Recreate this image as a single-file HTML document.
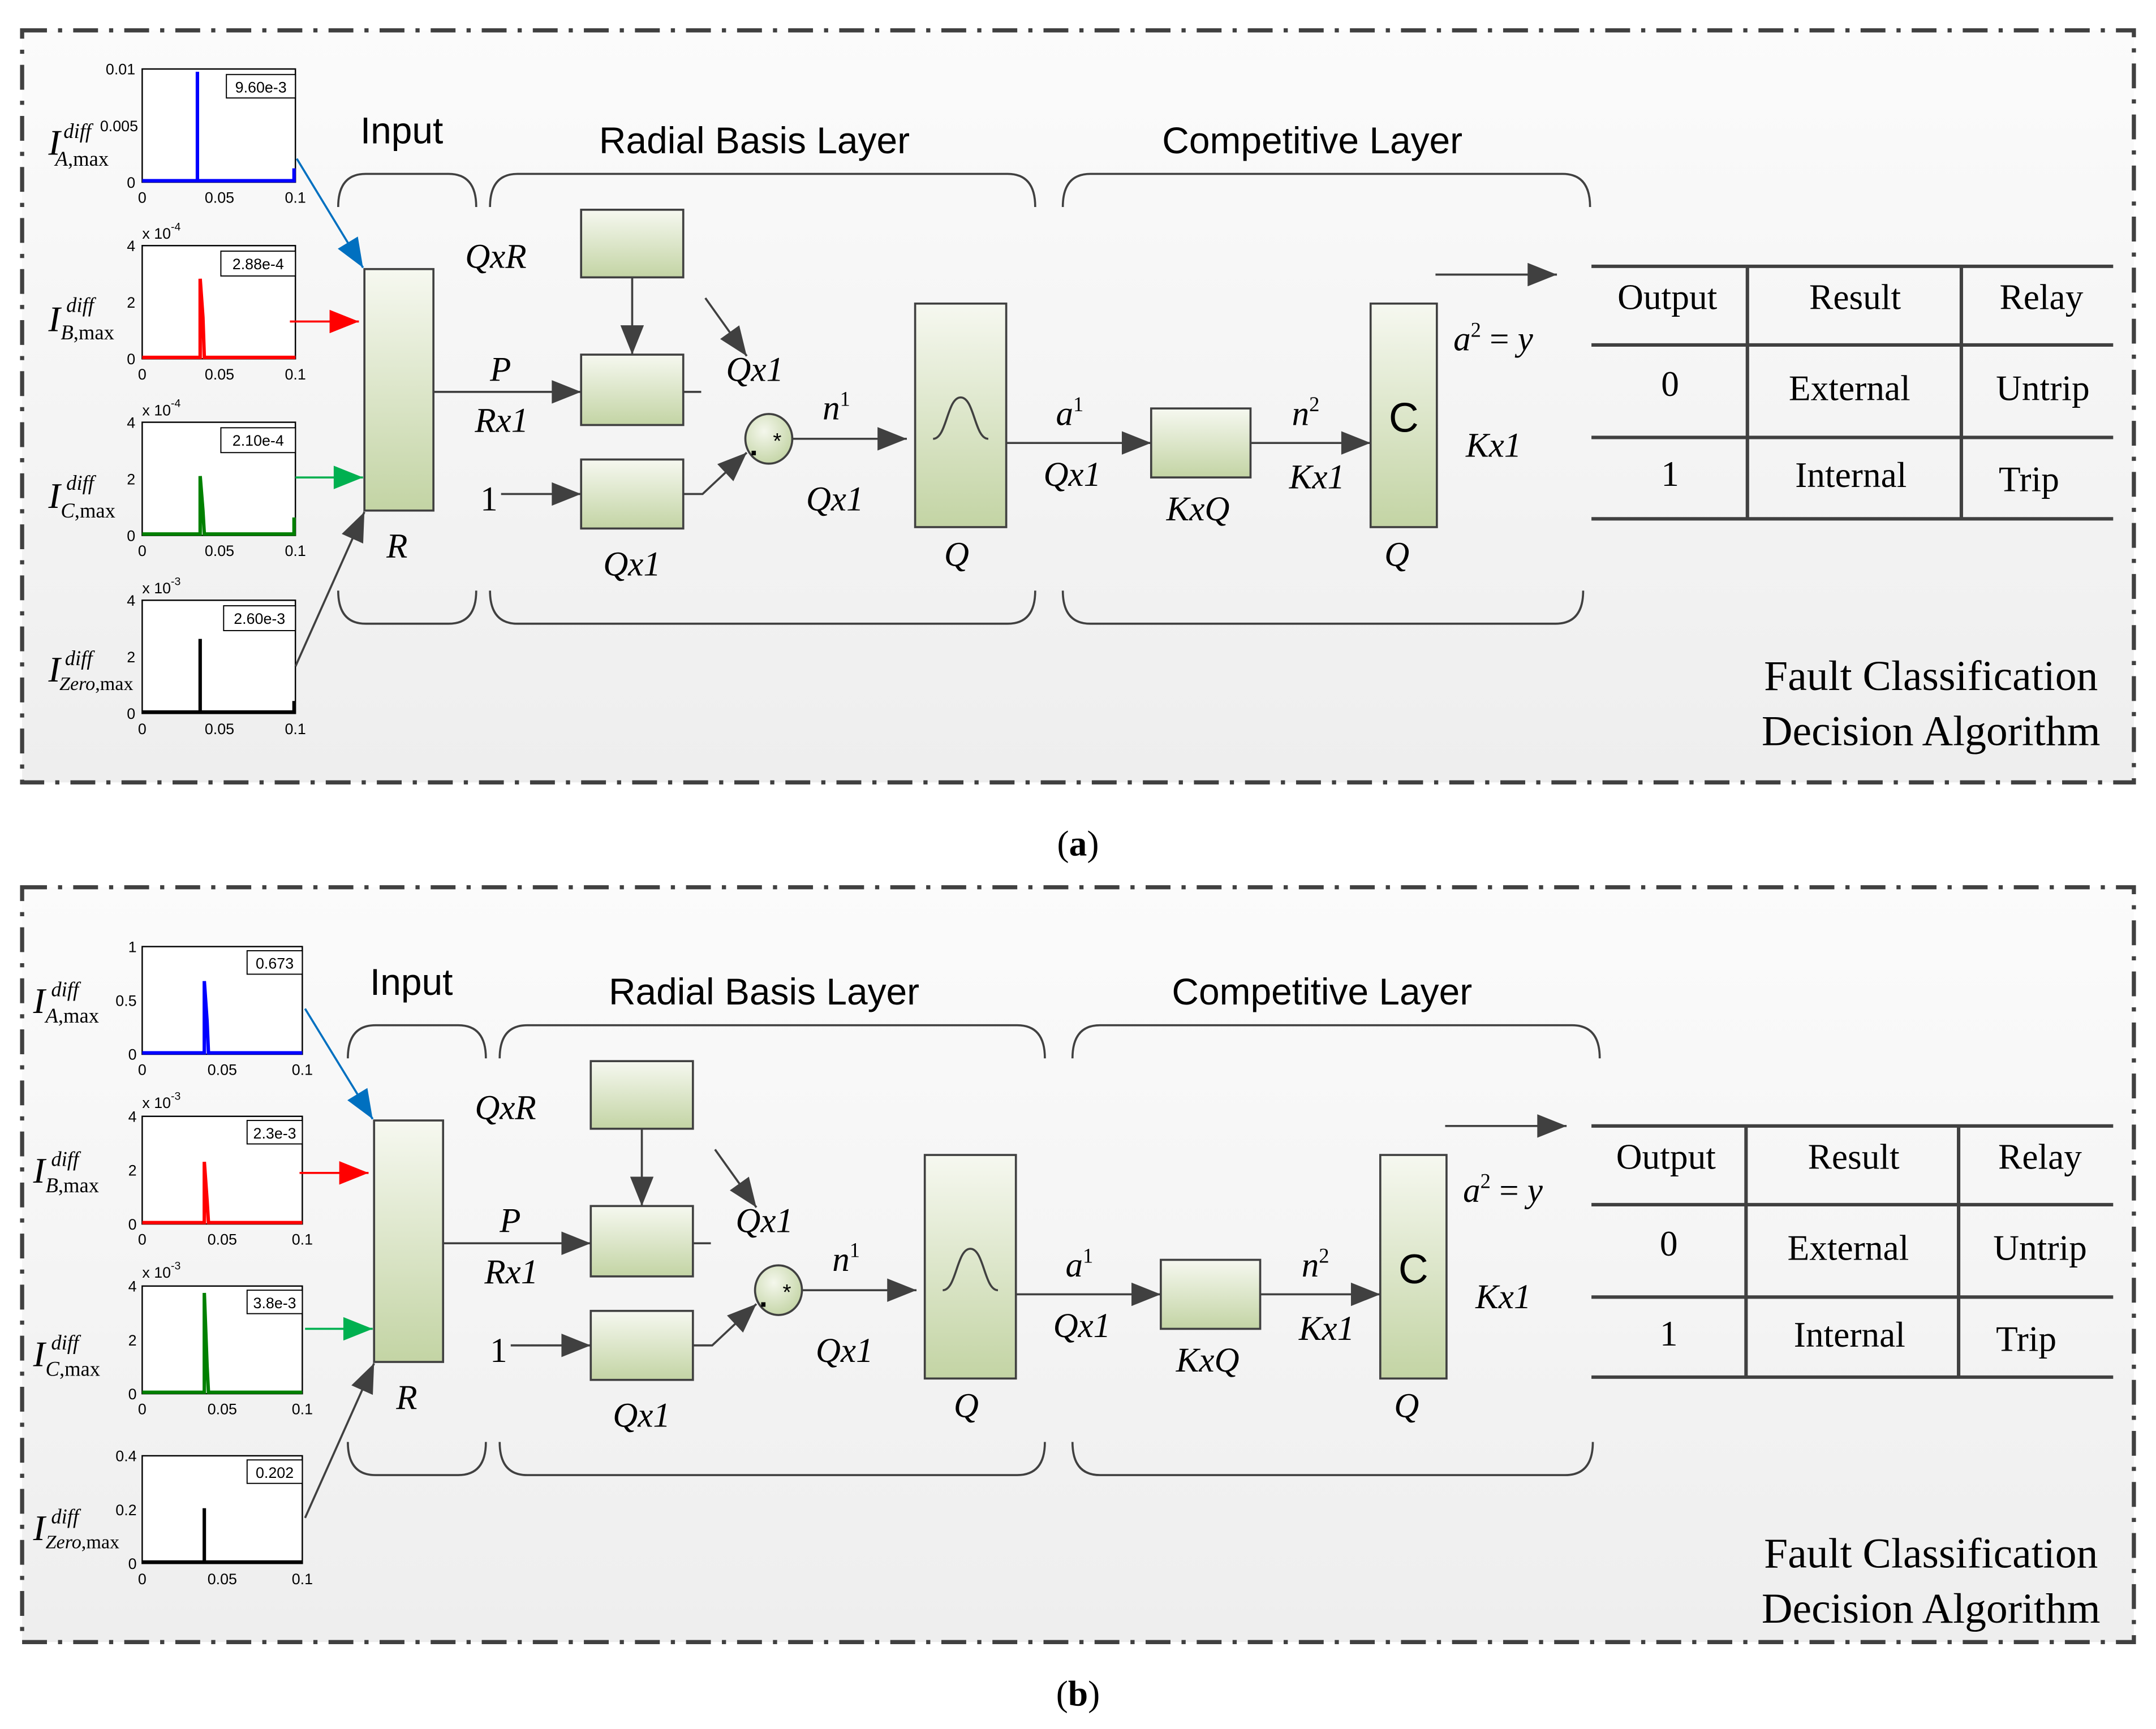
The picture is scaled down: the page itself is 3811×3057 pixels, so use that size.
<!DOCTYPE html>
<html><head><meta charset="utf-8"><style>
html,body{margin:0;padding:0;background:#fff}
svg{display:block}
.sans{font-family:"Liberation Sans",sans-serif}
.ser{font-family:"Liberation Serif",serif}
.it{font-family:"Liberation Serif",serif;font-style:italic}
.tk{font-family:"Liberation Sans",sans-serif;font-size:11px}
</style></head><body>
<svg width="3811" height="3057" viewBox="0 0 1562 1253" xmlns="http://www.w3.org/2000/svg">
<defs>
<linearGradient id="bg" x1="0" y1="0" x2="0" y2="1"><stop offset="0" stop-color="#fbfbfb"/><stop offset="1" stop-color="#eeeeee"/></linearGradient>
<linearGradient id="gr" x1="0" y1="0" x2="0" y2="1"><stop offset="0" stop-color="#f6f8f0"/><stop offset="1" stop-color="#c3d4a4"/></linearGradient>
<radialGradient id="cg" cx="0.4" cy="0.35" r="0.7"><stop offset="0" stop-color="#f4f7ec"/><stop offset="1" stop-color="#c3d4a4"/></radialGradient>
<marker id="ah" markerWidth="10" markerHeight="8" refX="10" refY="4" orient="auto" markerUnits="userSpaceOnUse"><path d="M0,0 L10,4 L0,8z" fill="#404040"/></marker>
<marker id="ak" viewBox="0 0 10 8" markerWidth="22" markerHeight="17" refX="10" refY="4" orient="auto" markerUnits="userSpaceOnUse"><path d="M0,0 L10,4 L0,8z" fill="#404040"/></marker>
<marker id="ab" viewBox="0 0 10 8" markerWidth="22" markerHeight="17" refX="10" refY="4" orient="auto" markerUnits="userSpaceOnUse"><path d="M0,0 L10,4 L0,8z" fill="#0070c0"/></marker>
<marker id="ar" viewBox="0 0 10 8" markerWidth="22" markerHeight="17" refX="10" refY="4" orient="auto" markerUnits="userSpaceOnUse"><path d="M0,0 L10,4 L0,8z" fill="#ff0000"/></marker>
<marker id="ag" viewBox="0 0 10 8" markerWidth="22" markerHeight="17" refX="10" refY="4" orient="auto" markerUnits="userSpaceOnUse"><path d="M0,0 L10,4 L0,8z" fill="#00b050"/></marker>
</defs>
<rect width="1562" height="1253" fill="#fff"/>
<!-- panel frames -->
<rect x="16" y="22" width="1530" height="545" fill="url(#bg)" stroke="#404040" stroke-width="3" stroke-dasharray="18,8,3,8"/>
<rect x="16" y="643" width="1530" height="547" fill="url(#bg)" stroke="#404040" stroke-width="3" stroke-dasharray="18,8,3,8"/>
<text x="781" y="620" class="ser" font-size="26" text-anchor="middle">(<tspan font-weight="bold">a</tspan>)</text>
<text x="781" y="1236" class="ser" font-size="26" text-anchor="middle">(<tspan font-weight="bold">b</tspan>)</text>

<!-- ============ PANEL A plots ============ -->
<g>
<rect x="103" y="50" width="111" height="82" fill="#fff" stroke="#000"/>
<rect x="164" y="54" width="50" height="17" fill="#fff" stroke="#000" stroke-width="0.8"/><text x="189" y="67" class="tk" text-anchor="middle">9.60e-3</text>
<text x="98" y="54" class="tk" text-anchor="end">0.01</text><text x="100" y="95" class="tk" text-anchor="end">0.005</text><text x="98" y="136" class="tk" text-anchor="end">0</text>
<text x="103" y="147" class="tk" text-anchor="middle">0</text><text x="159" y="147" class="tk" text-anchor="middle">0.05</text><text x="214" y="147" class="tk" text-anchor="middle">0.1</text>
<path d="M103,131 H143 V52 V131 H213 V122" fill="none" stroke="#0000ff" stroke-width="2.5"/>
<text x="35" y="112" class="it" font-size="26">I</text><text x="46" y="100" class="it" font-size="15">diff</text><text x="40" y="120" class="ser" font-size="15"><tspan font-style="italic">A</tspan>,max</text>

<rect x="103" y="178" width="111" height="82" fill="#fff" stroke="#000"/>
<rect x="160" y="182" width="54" height="18" fill="#fff" stroke="#000" stroke-width="0.8"/><text x="187" y="195" class="tk" text-anchor="middle">2.88e-4</text>
<text x="103" y="173" class="tk">x 10<tspan dy="-6" font-size="8">-4</tspan></text>
<text x="98" y="182" class="tk" text-anchor="end">4</text><text x="98" y="223" class="tk" text-anchor="end">2</text><text x="98" y="264" class="tk" text-anchor="end">0</text>
<text x="103" y="275" class="tk" text-anchor="middle">0</text><text x="159" y="275" class="tk" text-anchor="middle">0.05</text><text x="214" y="275" class="tk" text-anchor="middle">0.1</text>
<path d="M103,259 H145 V202 L147,230 L148,259 H214" fill="none" stroke="#ff0000" stroke-width="2.5"/>
<text x="35" y="240" class="it" font-size="26">I</text><text x="48" y="226" class="it" font-size="15">diff</text><text x="44" y="246" class="ser" font-size="15"><tspan font-style="italic">B</tspan>,max</text>

<rect x="103" y="306" width="111" height="82" fill="#fff" stroke="#000"/>
<rect x="160" y="310" width="54" height="18" fill="#fff" stroke="#000" stroke-width="0.8"/><text x="187" y="323" class="tk" text-anchor="middle">2.10e-4</text>
<text x="103" y="301" class="tk">x 10<tspan dy="-6" font-size="8">-4</tspan></text>
<text x="98" y="310" class="tk" text-anchor="end">4</text><text x="98" y="351" class="tk" text-anchor="end">2</text><text x="98" y="392" class="tk" text-anchor="end">0</text>
<text x="103" y="403" class="tk" text-anchor="middle">0</text><text x="159" y="403" class="tk" text-anchor="middle">0.05</text><text x="214" y="403" class="tk" text-anchor="middle">0.1</text>
<path d="M103,387 H145 V345 L147,370 L148,387 H213 V375" fill="none" stroke="#008000" stroke-width="2.5"/>
<text x="35" y="368" class="it" font-size="26">I</text><text x="48" y="355" class="it" font-size="15">diff</text><text x="44" y="375" class="ser" font-size="15"><tspan font-style="italic">C</tspan>,max</text>

<rect x="103" y="435" width="111" height="82" fill="#fff" stroke="#000"/>
<rect x="162" y="439" width="52" height="18" fill="#fff" stroke="#000" stroke-width="0.8"/><text x="188" y="452" class="tk" text-anchor="middle">2.60e-3</text>
<text x="103" y="430" class="tk">x 10<tspan dy="-6" font-size="8">-3</tspan></text>
<text x="98" y="439" class="tk" text-anchor="end">4</text><text x="98" y="480" class="tk" text-anchor="end">2</text><text x="98" y="521" class="tk" text-anchor="end">0</text>
<text x="103" y="532" class="tk" text-anchor="middle">0</text><text x="159" y="532" class="tk" text-anchor="middle">0.05</text><text x="214" y="532" class="tk" text-anchor="middle">0.1</text>
<path d="M103,516 H145 V463 V516 H213 V508" fill="none" stroke="#000" stroke-width="2.5"/>
<text x="35" y="494" class="it" font-size="26">I</text><text x="47" y="482" class="it" font-size="15">diff</text><text x="43" y="500" class="ser" font-size="14"><tspan font-style="italic">Zero</tspan>,max</text>

<line x1="215" y1="115" x2="263" y2="194" stroke="#0070c0" stroke-width="1.5" marker-end="url(#ab)"/>
<line x1="210" y1="233" x2="260" y2="233" stroke="#ff0000" stroke-width="1.5" marker-end="url(#ar)"/>
<line x1="214" y1="346" x2="263" y2="346" stroke="#00b050" stroke-width="1.5" marker-end="url(#ag)"/>
<line x1="214" y1="483" x2="264" y2="371" stroke="#404040" stroke-width="1.5" marker-end="url(#ak)"/>
</g>

<!-- ============ PANEL A network ============ -->
<g>
<text x="261" y="104" class="sans" font-size="27">Input</text>
<text x="434" y="111" class="sans" font-size="27">Radial Basis Layer</text>
<text x="842" y="111" class="sans" font-size="27">Competitive Layer</text>
<g fill="none" stroke="#404040" stroke-width="1.5">
<path d="M245,150 Q245,126 265,126 L325,126 Q345,126 345,150"/>
<path d="M245,428 Q245,452 265,452 L325,452 Q345,452 345,428"/>
<path d="M355,150 Q355,126 375,126 L730,126 Q750,126 750,150"/>
<path d="M355,428 Q355,452 375,452 L730,452 Q750,452 750,428"/>
<path d="M770,150 Q770,126 790,126 L1132,126 Q1152,126 1152,150"/>
<path d="M770,428 Q770,452 790,452 L1127,452 Q1147,452 1147,428"/>
</g>
<g stroke="#404040" stroke-width="1.5" fill="url(#gr)">
<rect x="264" y="195" width="50" height="175"/>
<rect x="421" y="152" width="74" height="49"/>
<rect x="421" y="257" width="74" height="51"/>
<rect x="421" y="333" width="74" height="50"/>
<rect x="663" y="220" width="66" height="162"/>
<rect x="834" y="296" width="72" height="50"/>
<rect x="993" y="220" width="48" height="162"/>
<ellipse cx="557" cy="318" rx="17" ry="18" fill="url(#cg)"/>
</g>
<g stroke="#404040" stroke-width="1.5" fill="none">
<line x1="314" y1="284" x2="421" y2="284" marker-end="url(#ak)"/>
<line x1="458" y1="201" x2="458" y2="257" marker-end="url(#ak)"/>
<line x1="511" y1="216" x2="541" y2="258" marker-end="url(#ak)"/>
<line x1="495" y1="284" x2="508" y2="284"/>
<line x1="363" y1="358" x2="421" y2="358" marker-end="url(#ak)"/>
<polyline points="495,358 509,358 541,328" marker-end="url(#ak)"/>
<line x1="574" y1="318" x2="657" y2="318" marker-end="url(#ak)"/>
<line x1="729" y1="321" x2="834" y2="321" marker-end="url(#ak)"/>
<line x1="906" y1="321" x2="993" y2="321" marker-end="url(#ak)"/>
<line x1="1040" y1="199" x2="1128" y2="199" marker-end="url(#ak)"/>
<path d="M676,318 C686,318 686,288 696,288 C706,288 706,318 716,318"/>
</g>
<text x="543" y="330" class="sans" font-size="22" font-weight="bold">.</text><text x="560" y="325" class="sans" font-size="16">*</text>
<text x="1017" y="313" class="sans" font-size="30" text-anchor="middle">C</text>
<g class="it" font-size="25">
<text x="337" y="194">QxR</text>
<text x="355" y="276">P</text>
<text x="344" y="313">Rx1</text>
<text x="526" y="276">Qx1</text>
<text x="437" y="417">Qx1</text>
<text x="596" y="304">n<tspan font-size="15" dy="-10" font-style="normal">1</tspan></text>
<text x="584" y="370">Qx1</text>
<text x="684" y="410">Q</text>
<text x="280" y="404">R</text>
<text x="765" y="308">a<tspan font-size="15" dy="-10" font-style="normal">1</tspan></text>
<text x="756" y="352">Qx1</text>
<text x="845" y="377">KxQ</text>
<text x="936" y="308">n<tspan font-size="15" dy="-10" font-style="normal">2</tspan></text>
<text x="934" y="354">Kx1</text>
<text x="1003" y="410">Q</text>
<text x="1053" y="254">a<tspan font-size="15" dy="-10" font-style="normal">2</tspan><tspan dy="10" font-style="normal"> = </tspan>y</text>
<text x="1062" y="331">Kx1</text>
</g>
<text x="348" y="370" class="ser" font-size="25">1</text>
</g>

<!-- table A -->
<g stroke="#404040" stroke-width="2.5">
<line x1="1153" y1="193" x2="1531" y2="193"/><line x1="1153" y1="250" x2="1531" y2="250"/>
<line x1="1153" y1="317" x2="1531" y2="317"/><line x1="1153" y1="376" x2="1531" y2="376"/>
<line x1="1266" y1="193" x2="1266" y2="376"/><line x1="1421" y1="193" x2="1421" y2="376"/>
</g>
<g class="ser" font-size="26" text-anchor="middle">
<text x="1208" y="224">Output</text><text x="1344" y="224">Result</text><text x="1479" y="224">Relay</text>
<text x="1210" y="287">0</text><text x="1340" y="290">External</text><text x="1480" y="290">Untrip</text>
<text x="1210" y="352">1</text><text x="1341" y="353">Internal</text><text x="1470" y="356">Trip</text>
<text x="1399" y="500" font-size="31">Fault Classification</text>
<text x="1399" y="540" font-size="31">Decision Algorithm</text>
</g>

<!-- ============ PANEL B plots ============ -->
<g>
<rect x="103" y="686" width="116" height="78" fill="#fff" stroke="#000"/>
<rect x="179" y="689" width="40" height="17" fill="#fff" stroke="#000" stroke-width="0.8"/><text x="199" y="702" class="tk" text-anchor="middle">0.673</text>
<text x="99" y="690" class="tk" text-anchor="end">1</text><text x="99" y="729" class="tk" text-anchor="end">0.5</text><text x="99" y="768" class="tk" text-anchor="end">0</text>
<text x="103" y="779" class="tk" text-anchor="middle">0</text><text x="161" y="779" class="tk" text-anchor="middle">0.05</text><text x="219" y="779" class="tk" text-anchor="middle">0.1</text>
<path d="M103,763 H148 V711 L150,740 L151,763 H219" fill="none" stroke="#0000ff" stroke-width="2.5"/>
<text x="24" y="734" class="it" font-size="26">I</text><text x="37" y="722" class="it" font-size="15">diff</text><text x="33" y="741" class="ser" font-size="15"><tspan font-style="italic">A</tspan>,max</text>

<rect x="103" y="809" width="116" height="78" fill="#fff" stroke="#000"/>
<rect x="179" y="812" width="40" height="17" fill="#fff" stroke="#000" stroke-width="0.8"/><text x="199" y="825" class="tk" text-anchor="middle">2.3e-3</text>
<text x="103" y="803" class="tk">x 10<tspan dy="-6" font-size="8">-3</tspan></text>
<text x="99" y="813" class="tk" text-anchor="end">4</text><text x="99" y="852" class="tk" text-anchor="end">2</text><text x="99" y="891" class="tk" text-anchor="end">0</text>
<text x="103" y="902" class="tk" text-anchor="middle">0</text><text x="161" y="902" class="tk" text-anchor="middle">0.05</text><text x="219" y="902" class="tk" text-anchor="middle">0.1</text>
<path d="M103,886 H148 V842 L150,870 L151,886 H219" fill="none" stroke="#ff0000" stroke-width="2.5"/>
<text x="24" y="857" class="it" font-size="26">I</text><text x="37" y="845" class="it" font-size="15">diff</text><text x="33" y="864" class="ser" font-size="15"><tspan font-style="italic">B</tspan>,max</text>

<rect x="103" y="932" width="116" height="78" fill="#fff" stroke="#000"/>
<rect x="179" y="935" width="40" height="17" fill="#fff" stroke="#000" stroke-width="0.8"/><text x="199" y="948" class="tk" text-anchor="middle">3.8e-3</text>
<text x="103" y="926" class="tk">x 10<tspan dy="-6" font-size="8">-3</tspan></text>
<text x="99" y="936" class="tk" text-anchor="end">4</text><text x="99" y="975" class="tk" text-anchor="end">2</text><text x="99" y="1014" class="tk" text-anchor="end">0</text>
<text x="103" y="1025" class="tk" text-anchor="middle">0</text><text x="161" y="1025" class="tk" text-anchor="middle">0.05</text><text x="219" y="1025" class="tk" text-anchor="middle">0.1</text>
<path d="M103,1009 H148 V937 L150,990 L151,1009 H219" fill="none" stroke="#008000" stroke-width="2.5"/>
<text x="24" y="990" class="it" font-size="26">I</text><text x="37" y="978" class="it" font-size="15">diff</text><text x="33" y="997" class="ser" font-size="15"><tspan font-style="italic">C</tspan>,max</text>

<rect x="103" y="1055" width="116" height="78" fill="#fff" stroke="#000"/>
<rect x="179" y="1058" width="40" height="17" fill="#fff" stroke="#000" stroke-width="0.8"/><text x="199" y="1071" class="tk" text-anchor="middle">0.202</text>
<text x="99" y="1059" class="tk" text-anchor="end">0.4</text><text x="99" y="1098" class="tk" text-anchor="end">0.2</text><text x="99" y="1137" class="tk" text-anchor="end">0</text>
<text x="103" y="1148" class="tk" text-anchor="middle">0</text><text x="161" y="1148" class="tk" text-anchor="middle">0.05</text><text x="219" y="1148" class="tk" text-anchor="middle">0.1</text>
<path d="M103,1132 H148 V1093 V1132 H219" fill="none" stroke="#000" stroke-width="2.5"/>
<text x="24" y="1116" class="it" font-size="26">I</text><text x="37" y="1104" class="it" font-size="15">diff</text><text x="33" y="1122" class="ser" font-size="14"><tspan font-style="italic">Zero</tspan>,max</text>

<line x1="221" y1="731" x2="270" y2="811" stroke="#0070c0" stroke-width="1.5" marker-end="url(#ab)"/>
<line x1="217" y1="850" x2="267" y2="850" stroke="#ff0000" stroke-width="1.5" marker-end="url(#ar)"/>
<line x1="221" y1="963" x2="270" y2="963" stroke="#00b050" stroke-width="1.5" marker-end="url(#ag)"/>
<line x1="221" y1="1100" x2="271" y2="988" stroke="#404040" stroke-width="1.5" marker-end="url(#ak)"/>
</g>

<!-- ============ PANEL B network (offset 7,617) ============ -->
<g transform="translate(7,617)">
<text x="261" y="104" class="sans" font-size="27">Input</text>
<text x="434" y="111" class="sans" font-size="27">Radial Basis Layer</text>
<text x="842" y="111" class="sans" font-size="27">Competitive Layer</text>
<g fill="none" stroke="#404040" stroke-width="1.5">
<path d="M245,150 Q245,126 265,126 L325,126 Q345,126 345,150"/>
<path d="M245,428 Q245,452 265,452 L325,452 Q345,452 345,428"/>
<path d="M355,150 Q355,126 375,126 L730,126 Q750,126 750,150"/>
<path d="M355,428 Q355,452 375,452 L730,452 Q750,452 750,428"/>
<path d="M770,150 Q770,126 790,126 L1132,126 Q1152,126 1152,150"/>
<path d="M770,428 Q770,452 790,452 L1127,452 Q1147,452 1147,428"/>
</g>
<g stroke="#404040" stroke-width="1.5" fill="url(#gr)">
<rect x="264" y="195" width="50" height="175"/>
<rect x="421" y="152" width="74" height="49"/>
<rect x="421" y="257" width="74" height="51"/>
<rect x="421" y="333" width="74" height="50"/>
<rect x="663" y="220" width="66" height="162"/>
<rect x="834" y="296" width="72" height="50"/>
<rect x="993" y="220" width="48" height="162"/>
<ellipse cx="557" cy="318" rx="17" ry="18" fill="url(#cg)"/>
</g>
<g stroke="#404040" stroke-width="1.5" fill="none">
<line x1="314" y1="284" x2="421" y2="284" marker-end="url(#ak)"/>
<line x1="458" y1="201" x2="458" y2="257" marker-end="url(#ak)"/>
<line x1="511" y1="216" x2="541" y2="258" marker-end="url(#ak)"/>
<line x1="495" y1="284" x2="508" y2="284"/>
<line x1="363" y1="358" x2="421" y2="358" marker-end="url(#ak)"/>
<polyline points="495,358 509,358 541,328" marker-end="url(#ak)"/>
<line x1="574" y1="318" x2="657" y2="318" marker-end="url(#ak)"/>
<line x1="729" y1="321" x2="834" y2="321" marker-end="url(#ak)"/>
<line x1="906" y1="321" x2="993" y2="321" marker-end="url(#ak)"/>
<line x1="1040" y1="199" x2="1128" y2="199" marker-end="url(#ak)"/>
<path d="M676,318 C686,318 686,288 696,288 C706,288 706,318 716,318"/>
</g>
<text x="543" y="330" class="sans" font-size="22" font-weight="bold">.</text><text x="560" y="325" class="sans" font-size="16">*</text>
<text x="1017" y="313" class="sans" font-size="30" text-anchor="middle">C</text>
<g class="it" font-size="25">
<text x="337" y="194">QxR</text>
<text x="355" y="276">P</text>
<text x="344" y="313">Rx1</text>
<text x="526" y="276">Qx1</text>
<text x="437" y="417">Qx1</text>
<text x="596" y="304">n<tspan font-size="15" dy="-10" font-style="normal">1</tspan></text>
<text x="584" y="370">Qx1</text>
<text x="684" y="410">Q</text>
<text x="280" y="404">R</text>
<text x="765" y="308">a<tspan font-size="15" dy="-10" font-style="normal">1</tspan></text>
<text x="756" y="352">Qx1</text>
<text x="845" y="377">KxQ</text>
<text x="936" y="308">n<tspan font-size="15" dy="-10" font-style="normal">2</tspan></text>
<text x="934" y="354">Kx1</text>
<text x="1003" y="410">Q</text>
<text x="1053" y="254">a<tspan font-size="15" dy="-10" font-style="normal">2</tspan><tspan dy="10" font-style="normal"> = </tspan>y</text>
<text x="1062" y="331">Kx1</text>
</g>
<text x="348" y="370" class="ser" font-size="25">1</text>
</g>

<!-- table B -->
<g stroke="#404040" stroke-width="2.5">
<line x1="1153" y1="816" x2="1531" y2="816"/><line x1="1153" y1="873" x2="1531" y2="873"/>
<line x1="1153" y1="940" x2="1531" y2="940"/><line x1="1153" y1="998" x2="1531" y2="998"/>
<line x1="1265" y1="816" x2="1265" y2="998"/><line x1="1419" y1="816" x2="1419" y2="998"/>
</g>
<g class="ser" font-size="26" text-anchor="middle">
<text x="1207" y="847">Output</text><text x="1343" y="847">Result</text><text x="1478" y="847">Relay</text>
<text x="1209" y="910">0</text><text x="1339" y="913">External</text><text x="1478" y="913">Untrip</text>
<text x="1209" y="975">1</text><text x="1340" y="976">Internal</text><text x="1468" y="979">Trip</text>
<text x="1399" y="1136" font-size="31">Fault Classification</text>
<text x="1399" y="1176" font-size="31">Decision Algorithm</text>
</g>
</svg>
</body></html>
